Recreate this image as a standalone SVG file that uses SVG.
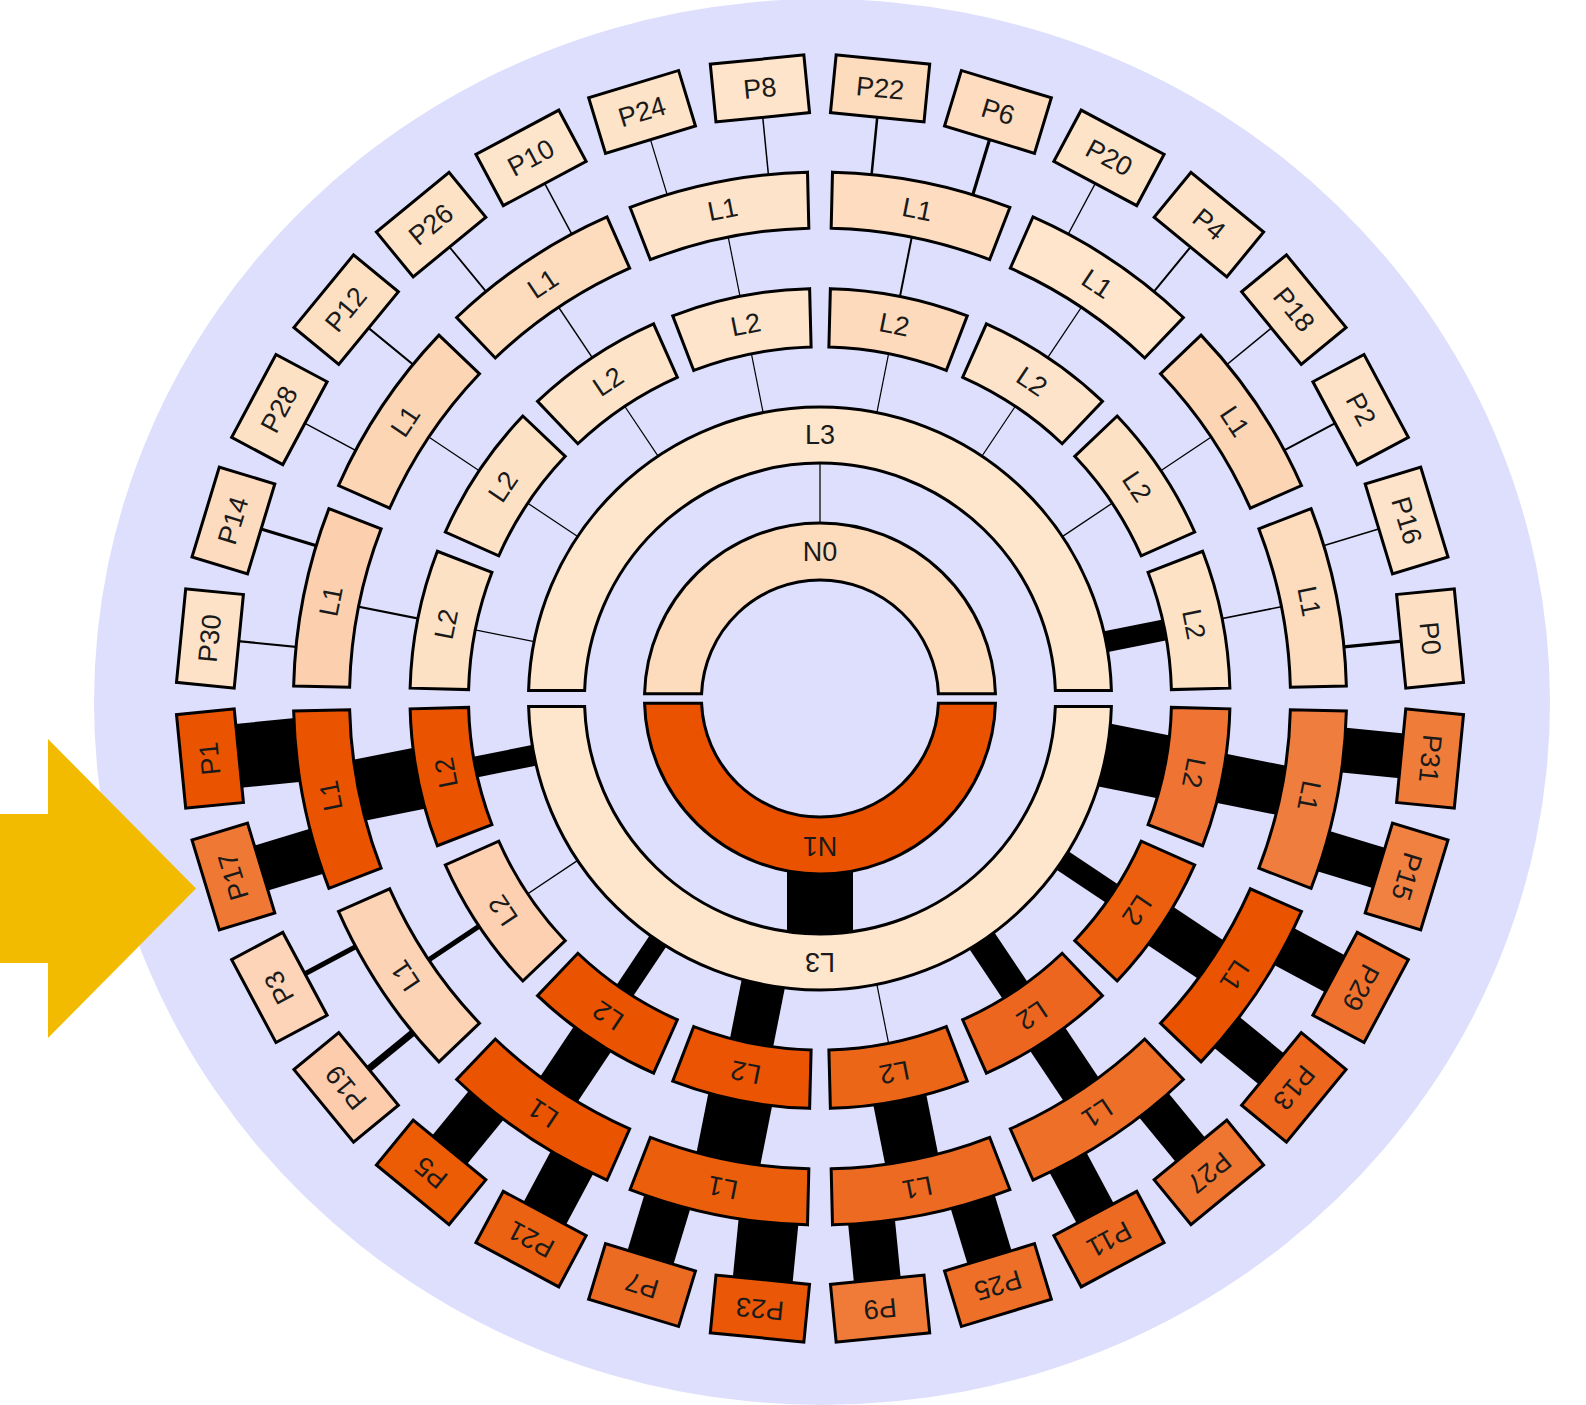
<svg xmlns="http://www.w3.org/2000/svg" xmlns:xlink="http://www.w3.org/1999/xlink" width="1586" height="1405" viewBox="0 0 1586 1405">
<style>
.nd rect, .nd path, .nd use { stroke:#000; stroke-width:3; stroke-linejoin:miter; }
text { font-family:"Liberation Sans", Arial, Helvetica, sans-serif; font-size:27px; fill:#1a1a1a; text-anchor:middle; dominant-baseline:central; }
#connectors line { stroke:#000; stroke-linecap:butt; }
</style>
<defs>
<path id="s1" d="M729.57 179.824 A526.5 526.5 0 0 1 910.43 179.824 L900.812 234.992 A470.5 470.5 0 0 0 739.188 234.992 Z"/>
<path id="s2" d="M750.214 294.483 A410 410 0 0 1 889.786 294.483 L879.828 352.129 A351.5 351.5 0 0 0 760.172 352.129 Z"/>
<rect id="pb" x="773" y="56.5" width="94" height="58"/>
</defs>
<rect x="0" y="0" width="1586" height="1405" fill="#ffffff"/>
<ellipse cx="822" cy="702" rx="728" ry="703" fill="#dedffd"/>
<polygon points="0,814 48,814 48,739 196,888.5 48,1038 48,963 0,963" fill="#f2bb00"/>

<g id="connectors">
<!-- top P-L1 -->
<line x1="820" y1="200" x2="820" y2="85.5" stroke-width="3.2" transform="rotate(84.375 820 698.5)"/>
<line x1="820" y1="200" x2="820" y2="85.5" stroke-width="1.6" transform="rotate(73.125 820 698.5)"/>
<line x1="820" y1="200" x2="820" y2="85.5" stroke-width="2" transform="rotate(61.875 820 698.5)"/>
<line x1="820" y1="200" x2="820" y2="85.5" stroke-width="1.6" transform="rotate(50.625 820 698.5)"/>
<line x1="820" y1="200" x2="820" y2="85.5" stroke-width="2" transform="rotate(39.375 820 698.5)"/>
<line x1="820" y1="200" x2="820" y2="85.5" stroke-width="1.3" transform="rotate(28.125 820 698.5)"/>
<line x1="820" y1="200" x2="820" y2="85.5" stroke-width="3.2" transform="rotate(16.875 820 698.5)"/>
<line x1="820" y1="200" x2="820" y2="85.5" stroke-width="2.5" transform="rotate(5.625 820 698.5)"/>
<line x1="820" y1="200" x2="820" y2="85.5" stroke-width="1.5" transform="rotate(-5.625 820 698.5)"/>
<line x1="820" y1="200" x2="820" y2="85.5" stroke-width="1.2" transform="rotate(-16.875 820 698.5)"/>
<line x1="820" y1="200" x2="820" y2="85.5" stroke-width="1.5" transform="rotate(-28.125 820 698.5)"/>
<line x1="820" y1="200" x2="820" y2="85.5" stroke-width="1.8" transform="rotate(-39.375 820 698.5)"/>
<line x1="820" y1="200" x2="820" y2="85.5" stroke-width="2.1" transform="rotate(-50.625 820 698.5)"/>
<line x1="820" y1="200" x2="820" y2="85.5" stroke-width="1.4" transform="rotate(-61.875 820 698.5)"/>
<line x1="820" y1="200" x2="820" y2="85.5" stroke-width="3.2" transform="rotate(-73.125 820 698.5)"/>
<line x1="820" y1="200" x2="820" y2="85.5" stroke-width="2.2" transform="rotate(-84.375 820 698.5)"/>
<!-- top L1-L2 -->
<line x1="820" y1="317.5" x2="820" y2="200" stroke-width="1.6" transform="rotate(78.75 820 698.5)"/>
<line x1="820" y1="317.5" x2="820" y2="200" stroke-width="1.3" transform="rotate(56.25 820 698.5)"/>
<line x1="820" y1="317.5" x2="820" y2="200" stroke-width="1.3" transform="rotate(33.75 820 698.5)"/>
<line x1="820" y1="317.5" x2="820" y2="200" stroke-width="2" transform="rotate(11.25 820 698.5)"/>
<line x1="820" y1="317.5" x2="820" y2="200" stroke-width="1.2" transform="rotate(-11.25 820 698.5)"/>
<line x1="820" y1="317.5" x2="820" y2="200" stroke-width="1.4" transform="rotate(-33.75 820 698.5)"/>
<line x1="820" y1="317.5" x2="820" y2="200" stroke-width="1.2" transform="rotate(-56.25 820 698.5)"/>
<line x1="820" y1="317.5" x2="820" y2="200" stroke-width="2.2" transform="rotate(-78.75 820 698.5)"/>
<!-- top L2-L3 -->
<line x1="820" y1="435" x2="820" y2="317.5" stroke-width="21" transform="rotate(78.75 820 698.5)"/>
<line x1="820" y1="435" x2="820" y2="317.5" stroke-width="1.3" transform="rotate(56.25 820 698.5)"/>
<line x1="820" y1="435" x2="820" y2="317.5" stroke-width="1.1" transform="rotate(33.75 820 698.5)"/>
<line x1="820" y1="435" x2="820" y2="317.5" stroke-width="1.2" transform="rotate(11.25 820 698.5)"/>
<line x1="820" y1="435" x2="820" y2="317.5" stroke-width="1.2" transform="rotate(-11.25 820 698.5)"/>
<line x1="820" y1="435" x2="820" y2="317.5" stroke-width="1.2" transform="rotate(-33.75 820 698.5)"/>
<line x1="820" y1="435" x2="820" y2="317.5" stroke-width="1.2" transform="rotate(-56.25 820 698.5)"/>
<line x1="820" y1="435" x2="820" y2="317.5" stroke-width="1.3" transform="rotate(-78.75 820 698.5)"/>
<!-- L3-N0 -->
<line x1="820" y1="551.5" x2="820" y2="435" stroke-width="2" style="stroke:#555"/>
<!-- bottom P-L1 -->
<line x1="820" y1="200" x2="820" y2="85.5" stroke-width="45" transform="rotate(95.625 820 698.5)"/>
<line x1="820" y1="200" x2="820" y2="85.5" stroke-width="42" transform="rotate(106.875 820 698.5)"/>
<line x1="820" y1="200" x2="820" y2="85.5" stroke-width="42" transform="rotate(118.125 820 698.5)"/>
<line x1="820" y1="200" x2="820" y2="85.5" stroke-width="40" transform="rotate(129.375 820 698.5)"/>
<line x1="820" y1="200" x2="820" y2="85.5" stroke-width="38" transform="rotate(140.625 820 698.5)"/>
<line x1="820" y1="200" x2="820" y2="85.5" stroke-width="42" transform="rotate(151.875 820 698.5)"/>
<line x1="820" y1="200" x2="820" y2="85.5" stroke-width="46" transform="rotate(163.125 820 698.5)"/>
<line x1="820" y1="200" x2="820" y2="85.5" stroke-width="47" transform="rotate(174.375 820 698.5)"/>
<line x1="820" y1="200" x2="820" y2="85.5" stroke-width="60" transform="rotate(185.625 820 698.5)"/>
<line x1="820" y1="200" x2="820" y2="85.5" stroke-width="48" transform="rotate(196.875 820 698.5)"/>
<line x1="820" y1="200" x2="820" y2="85.5" stroke-width="48" transform="rotate(208.125 820 698.5)"/>
<line x1="820" y1="200" x2="820" y2="85.5" stroke-width="45" transform="rotate(219.375 820 698.5)"/>
<line x1="820" y1="200" x2="820" y2="85.5" stroke-width="7" transform="rotate(230.625 820 698.5)"/>
<line x1="820" y1="200" x2="820" y2="85.5" stroke-width="5" transform="rotate(241.875 820 698.5)"/>
<line x1="820" y1="200" x2="820" y2="85.5" stroke-width="47" transform="rotate(253.125 820 698.5)"/>
<line x1="820" y1="200" x2="820" y2="85.5" stroke-width="64" transform="rotate(264.375 820 698.5)"/>
<!-- bottom L1-L2 -->
<line x1="820" y1="317.5" x2="820" y2="200" stroke-width="50" transform="rotate(101.25 820 698.5)"/>
<line x1="820" y1="317.5" x2="820" y2="200" stroke-width="46" transform="rotate(123.75 820 698.5)"/>
<line x1="820" y1="317.5" x2="820" y2="200" stroke-width="42" transform="rotate(146.25 820 698.5)"/>
<line x1="820" y1="317.5" x2="820" y2="200" stroke-width="54" transform="rotate(168.75 820 698.5)"/>
<line x1="820" y1="317.5" x2="820" y2="200" stroke-width="65" transform="rotate(191.25 820 698.5)"/>
<line x1="820" y1="317.5" x2="820" y2="200" stroke-width="45" transform="rotate(213.75 820 698.5)"/>
<line x1="820" y1="317.5" x2="820" y2="200" stroke-width="5" transform="rotate(236.25 820 698.5)"/>
<line x1="820" y1="317.5" x2="820" y2="200" stroke-width="62" transform="rotate(258.75 820 698.5)"/>
<!-- bottom L2-L3 -->
<line x1="820" y1="435" x2="820" y2="317.5" stroke-width="64" transform="rotate(101.25 820 698.5)"/>
<line x1="820" y1="435" x2="820" y2="317.5" stroke-width="22" transform="rotate(123.75 820 698.5)"/>
<line x1="820" y1="435" x2="820" y2="317.5" stroke-width="30" transform="rotate(146.25 820 698.5)"/>
<line x1="820" y1="435" x2="820" y2="317.5" stroke-width="1.2" transform="rotate(168.75 820 698.5)"/>
<line x1="820" y1="435" x2="820" y2="317.5" stroke-width="44" transform="rotate(191.25 820 698.5)"/>
<line x1="820" y1="435" x2="820" y2="317.5" stroke-width="20" transform="rotate(213.75 820 698.5)"/>
<line x1="820" y1="435" x2="820" y2="317.5" stroke-width="1.3" transform="rotate(236.25 820 698.5)"/>
<line x1="820" y1="435" x2="820" y2="317.5" stroke-width="21" transform="rotate(258.75 820 698.5)"/>
<!-- L3-N1 -->
<line x1="820" y1="551.5" x2="820" y2="435" stroke-width="66" transform="rotate(180 820 698.5)"/>
</g>

<g id="N0" class="nd"><path d="M995.433 693.65 A175.5 175.5 0 0 0 644.567 693.65 L701.6 693.65 A118.5 118.5 0 0 1 938.4 693.65 Z" fill="#fddbbd"/><text x="820" y="551.5">N0</text></g>
<g id="N1" class="nd"><path d="M995.433 703.35 A175.5 175.5 0 0 1 644.567 703.35 L701.6 703.35 A118.5 118.5 0 0 0 938.4 703.35 Z" fill="#ea5200"/><text x="820" y="845.5" transform="rotate(180 820 845.5)">N1</text></g>
<g id="L3-top" class="nd"><path d="M1111.39 690.5 A291.5 291.5 0 0 0 528.61 690.5 L584.64 690.5 A235.5 235.5 0 0 1 1055.36 690.5 Z" fill="#fee6cd"/><text x="820" y="435">L3</text></g>
<g id="L3-bottom" class="nd"><path d="M1111.39 706.5 A291.5 291.5 0 0 1 528.61 706.5 L584.64 706.5 A235.5 235.5 0 0 0 1055.36 706.5 Z" fill="#fee6cd"/><text x="820" y="962" transform="rotate(180 820 962)">L3</text></g>

<!-- L2 top -->
<g id="L2-t0" class="nd" transform="rotate(78.75 820 698.5)"><use xlink:href="#s2" fill="#fde2c6"/><text x="820" y="317.5">L2</text></g>
<g id="L2-t1" class="nd" transform="rotate(56.25 820 698.5)"><use xlink:href="#s2" fill="#fde1c4"/><text x="820" y="317.5">L2</text></g>
<g id="L2-t2" class="nd" transform="rotate(33.75 820 698.5)"><use xlink:href="#s2" fill="#fde3c9"/><text x="820" y="317.5">L2</text></g>
<g id="L2-t3" class="nd" transform="rotate(11.25 820 698.5)"><use xlink:href="#s2" fill="#fddabb"/><text x="820" y="317.5">L2</text></g>
<g id="L2-t4" class="nd" transform="rotate(-11.25 820 698.5)"><use xlink:href="#s2" fill="#fee4ca"/><text x="820" y="317.5">L2</text></g>
<g id="L2-t5" class="nd" transform="rotate(-33.75 820 698.5)"><use xlink:href="#s2" fill="#fde3c8"/><text x="820" y="317.5">L2</text></g>
<g id="L2-t6" class="nd" transform="rotate(-56.25 820 698.5)"><use xlink:href="#s2" fill="#fde1c5"/><text x="820" y="317.5">L2</text></g>
<g id="L2-t7" class="nd" transform="rotate(-78.75 820 698.5)"><use xlink:href="#s2" fill="#fde1c5"/><text x="820" y="317.5">L2</text></g>
<!-- L2 bottom -->
<g id="L2-b0" class="nd" transform="rotate(101.25 820 698.5)"><use xlink:href="#s2" fill="#ef7434"/><text x="820" y="317.5">L2</text></g>
<g id="L2-b1" class="nd" transform="rotate(123.75 820 698.5)"><use xlink:href="#s2" fill="#ec5f0e"/><text x="820" y="317.5">L2</text></g>
<g id="L2-b2" class="nd" transform="rotate(146.25 820 698.5)"><use xlink:href="#s2" fill="#ec6620"/><text x="820" y="317.5">L2</text></g>
<g id="L2-b3" class="nd" transform="rotate(168.75 820 698.5)"><use xlink:href="#s2" fill="#ec6618"/><text x="820" y="317.5">L2</text></g>
<g id="L2-b4" class="nd" transform="rotate(191.25 820 698.5)"><use xlink:href="#s2" fill="#ea5402"/><text x="820" y="317.5">L2</text></g>
<g id="L2-b5" class="nd" transform="rotate(213.75 820 698.5)"><use xlink:href="#s2" fill="#ea5400"/><text x="820" y="317.5">L2</text></g>
<g id="L2-b6" class="nd" transform="rotate(236.25 820 698.5)"><use xlink:href="#s2" fill="#fcd0b0"/><text x="820" y="317.5">L2</text></g>
<g id="L2-b7" class="nd" transform="rotate(258.75 820 698.5)"><use xlink:href="#s2" fill="#ea5300"/><text x="820" y="317.5">L2</text></g>

<!-- L1 top -->
<g id="L1-t0" class="nd" transform="rotate(78.75 820 698.5)"><use xlink:href="#s1" fill="#fddbbd"/><text x="820" y="200">L1</text></g>
<g id="L1-t1" class="nd" transform="rotate(56.25 820 698.5)"><use xlink:href="#s1" fill="#fcd5b5"/><text x="820" y="200">L1</text></g>
<g id="L1-t2" class="nd" transform="rotate(33.75 820 698.5)"><use xlink:href="#s1" fill="#fee5cb"/><text x="820" y="200">L1</text></g>
<g id="L1-t3" class="nd" transform="rotate(11.25 820 698.5)"><use xlink:href="#s1" fill="#fddcbf"/><text x="820" y="200">L1</text></g>
<g id="L1-t4" class="nd" transform="rotate(-11.25 820 698.5)"><use xlink:href="#s1" fill="#fde3c9"/><text x="820" y="200">L1</text></g>
<g id="L1-t5" class="nd" transform="rotate(-33.75 820 698.5)"><use xlink:href="#s1" fill="#fddbbd"/><text x="820" y="200">L1</text></g>
<g id="L1-t6" class="nd" transform="rotate(-56.25 820 698.5)"><use xlink:href="#s1" fill="#fcd5b5"/><text x="820" y="200">L1</text></g>
<g id="L1-t7" class="nd" transform="rotate(-78.75 820 698.5)"><use xlink:href="#s1" fill="#fcd0ae"/><text x="820" y="200">L1</text></g>
<!-- L1 bottom -->
<g id="L1-b0" class="nd" transform="rotate(101.25 820 698.5)"><use xlink:href="#s1" fill="#ef7d3e"/><text x="820" y="200">L1</text></g>
<g id="L1-b1" class="nd" transform="rotate(123.75 820 698.5)"><use xlink:href="#s1" fill="#ea5300"/><text x="820" y="200">L1</text></g>
<g id="L1-b2" class="nd" transform="rotate(146.25 820 698.5)"><use xlink:href="#s1" fill="#ee6f28"/><text x="820" y="200">L1</text></g>
<g id="L1-b3" class="nd" transform="rotate(168.75 820 698.5)"><use xlink:href="#s1" fill="#ec6a22"/><text x="820" y="200">L1</text></g>
<g id="L1-b4" class="nd" transform="rotate(191.25 820 698.5)"><use xlink:href="#s1" fill="#eb5f0c"/><text x="820" y="200">L1</text></g>
<g id="L1-b5" class="nd" transform="rotate(213.75 820 698.5)"><use xlink:href="#s1" fill="#ea5300"/><text x="820" y="200">L1</text></g>
<g id="L1-b6" class="nd" transform="rotate(236.25 820 698.5)"><use xlink:href="#s1" fill="#fcd3b4"/><text x="820" y="200">L1</text></g>
<g id="L1-b7" class="nd" transform="rotate(258.75 820 698.5)"><use xlink:href="#s1" fill="#ea5300"/><text x="820" y="200">L1</text></g>

<!-- P top -->
<g id="P0" class="nd" transform="rotate(84.375 820 698.5)"><use xlink:href="#pb" fill="#fde0c4"/><text x="820" y="85.5">P0</text></g>
<g id="P16" class="nd" transform="rotate(73.125 820 698.5)"><use xlink:href="#pb" fill="#fde3c9"/><text x="820" y="85.5">P16</text></g>
<g id="P2" class="nd" transform="rotate(61.875 820 698.5)"><use xlink:href="#pb" fill="#fde2c7"/><text x="820" y="85.5">P2</text></g>
<g id="P18" class="nd" transform="rotate(50.625 820 698.5)"><use xlink:href="#pb" fill="#fddfc2"/><text x="820" y="85.5">P18</text></g>
<g id="P4" class="nd" transform="rotate(39.375 820 698.5)"><use xlink:href="#pb" fill="#fde2c7"/><text x="820" y="85.5">P4</text></g>
<g id="P20" class="nd" transform="rotate(28.125 820 698.5)"><use xlink:href="#pb" fill="#fde4c9"/><text x="820" y="85.5">P20</text></g>
<g id="P6" class="nd" transform="rotate(16.875 820 698.5)"><use xlink:href="#pb" fill="#fddcbf"/><text x="820" y="85.5">P6</text></g>
<g id="P22" class="nd" transform="rotate(5.625 820 698.5)"><use xlink:href="#pb" fill="#fddbbd"/><text x="820" y="85.5">P22</text></g>
<g id="P8" class="nd" transform="rotate(-5.625 820 698.5)"><use xlink:href="#pb" fill="#fde4ca"/><text x="820" y="85.5">P8</text></g>
<g id="P24" class="nd" transform="rotate(-16.875 820 698.5)"><use xlink:href="#pb" fill="#fde3c8"/><text x="820" y="85.5">P24</text></g>
<g id="P10" class="nd" transform="rotate(-28.125 820 698.5)"><use xlink:href="#pb" fill="#fde5cb"/><text x="820" y="85.5">P10</text></g>
<g id="P26" class="nd" transform="rotate(-39.375 820 698.5)"><use xlink:href="#pb" fill="#fde2c6"/><text x="820" y="85.5">P26</text></g>
<g id="P12" class="nd" transform="rotate(-50.625 820 698.5)"><use xlink:href="#pb" fill="#fddfc2"/><text x="820" y="85.5">P12</text></g>
<g id="P28" class="nd" transform="rotate(-61.875 820 698.5)"><use xlink:href="#pb" fill="#fde1c5"/><text x="820" y="85.5">P28</text></g>
<g id="P14" class="nd" transform="rotate(-73.125 820 698.5)"><use xlink:href="#pb" fill="#fddbbe"/><text x="820" y="85.5">P14</text></g>
<g id="P30" class="nd" transform="rotate(-84.375 820 698.5)"><use xlink:href="#pb" fill="#fde2c7"/><text x="820" y="85.5">P30</text></g>
<!-- P bottom -->
<g id="P31" class="nd" transform="rotate(95.625 820 698.5)"><use xlink:href="#pb" fill="#f07c39"/><text x="820" y="85.5">P31</text></g>
<g id="P15" class="nd" transform="rotate(106.875 820 698.5)"><use xlink:href="#pb" fill="#f08141"/><text x="820" y="85.5">P15</text></g>
<g id="P29" class="nd" transform="rotate(118.125 820 698.5)"><use xlink:href="#pb" fill="#ef722e"/><text x="820" y="85.5">P29</text></g>
<g id="P13" class="nd" transform="rotate(129.375 820 698.5)"><use xlink:href="#pb" fill="#ec671d"/><text x="820" y="85.5">P13</text></g>
<g id="P27" class="nd" transform="rotate(140.625 820 698.5)"><use xlink:href="#pb" fill="#ef7631"/><text x="820" y="85.5">P27</text></g>
<g id="P11" class="nd" transform="rotate(151.875 820 698.5)"><use xlink:href="#pb" fill="#ec6a22"/><text x="820" y="85.5">P11</text></g>
<g id="P25" class="nd" transform="rotate(163.125 820 698.5)"><use xlink:href="#pb" fill="#ed6f28"/><text x="820" y="85.5">P25</text></g>
<g id="P9" class="nd" transform="rotate(174.375 820 698.5)"><use xlink:href="#pb" fill="#f07a38"/><text x="820" y="85.5">P9</text></g>
<g id="P23" class="nd" transform="rotate(185.625 820 698.5)"><use xlink:href="#pb" fill="#ea5707"/><text x="820" y="85.5">P23</text></g>
<g id="P7" class="nd" transform="rotate(196.875 820 698.5)"><use xlink:href="#pb" fill="#ec6b23"/><text x="820" y="85.5">P7</text></g>
<g id="P21" class="nd" transform="rotate(208.125 820 698.5)"><use xlink:href="#pb" fill="#eb6212"/><text x="820" y="85.5">P21</text></g>
<g id="P5" class="nd" transform="rotate(219.375 820 698.5)"><use xlink:href="#pb" fill="#eb5c05"/><text x="820" y="85.5">P5</text></g>
<g id="P19" class="nd" transform="rotate(230.625 820 698.5)"><use xlink:href="#pb" fill="#fcccad"/><text x="820" y="85.5">P19</text></g>
<g id="P3" class="nd" transform="rotate(241.875 820 698.5)"><use xlink:href="#pb" fill="#fdd4b7"/><text x="820" y="85.5">P3</text></g>
<g id="P17" class="nd" transform="rotate(253.125 820 698.5)"><use xlink:href="#pb" fill="#ef7934"/><text x="820" y="85.5">P17</text></g>
<g id="P1" class="nd" transform="rotate(264.375 820 698.5)"><use xlink:href="#pb" fill="#ea5400"/><text x="820" y="85.5">P1</text></g>
</svg>
